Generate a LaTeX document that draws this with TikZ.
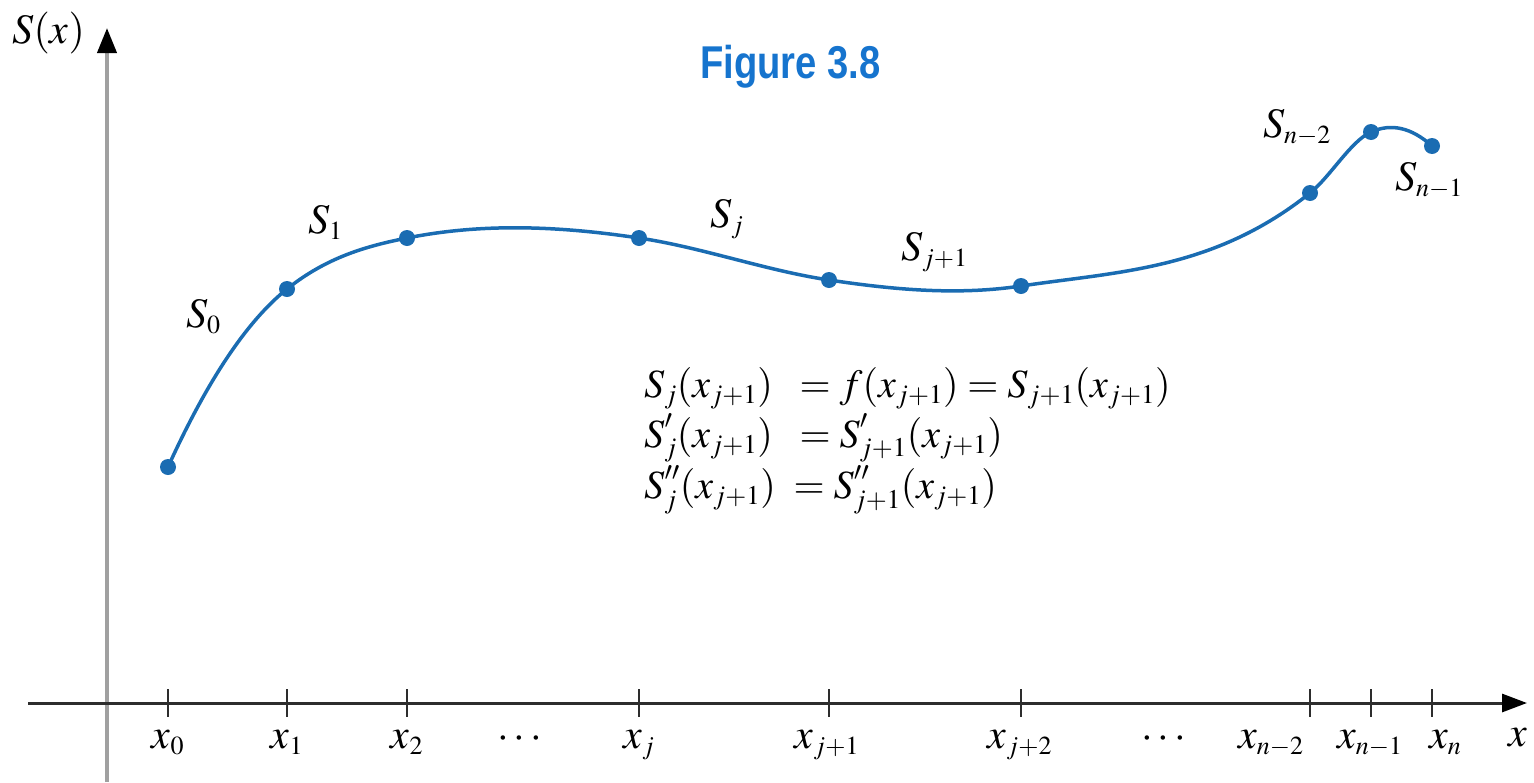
\documentclass[tikz,border=0pt]{standalone}
\usepackage{mathptmx}
\usepackage{amsmath}
\usepackage[no-math]{fontspec}
\newfontfamily\titlefont{Liberation Sans}
\usetikzlibrary{arrows.meta}
\DeclareMathSizes{42}{42}{26}{20}
\DeclareMathSizes{40}{40}{27}{20}
\newcommand{\sprime}{\raisebox{2pt}{$\scriptstyle\prime$}}
\newcommand{\dprime}{\raisebox{2pt}{$\scriptstyle\prime\prime$}}
\definecolor{curveblue}{RGB}{26,108,178}
\definecolor{titleblue}{RGB}{22,116,206}
\definecolor{axisgray}{RGB}{160,160,160}
\definecolor{axisdark}{RGB}{45,45,45}
\tikzset{
  lab/.style={font=\fontsize{42}{49}\selectfont, inner sep=0pt, text=black},
  eqlab/.style={font=\fontsize{40}{50}\selectfont, inner sep=0pt, text=black},
  dot/.style={circle, fill=curveblue, minimum size=16pt, inner sep=0pt},
  curveline/.style={draw=curveblue, line width=3.5pt},
  tickline/.style={draw=axisdark, line width=2.5pt},
}
\begin{document}
\begin{tikzpicture}[x=1pt,y=-1pt]
\useasboundingbox (0,0) rectangle (1534,782);
% axes
\coordinate (ybot) at (107,782);
\coordinate (ytop) at (107,28);
\coordinate (xleft) at (28,703);
\coordinate (xright) at (1527,703);
\draw[draw=axisgray, line width=4pt, -{Triangle[length=25pt,width=19pt,color=black,fill=black]}] (ybot) -- (ytop);
\draw[draw=axisdark, line width=3pt, -{Triangle[length=25pt,width=18pt,color=black,fill=black]}] (xleft) -- (xright);
% knot coordinates
\coordinate (c0) at (168,467);
\coordinate (c1) at (287,289);
\coordinate (c2) at (407,238);
\coordinate (c3) at (639,238);
\coordinate (c4) at (829,280);
\coordinate (c5) at (1021,286);
\coordinate (c6) at (1310,193);
\coordinate (c7) at (1371,132);
\coordinate (c8) at (1432,146);
% ticks
\foreach \p in {c0,c1,c2,c3,c4,c5,c6,c7,c8}{
  \coordinate (t-\p-a) at (\p |- 0,689);
  \coordinate (t-\p-b) at (\p |- 0,717);
  \draw[tickline] (t-\p-a) -- (t-\p-b);
}
% curve (piecewise cubic spline)
\draw[curveline] (c0)
  .. controls +(39.67,-87.3) and +(-39.67,31.7) .. (c1)
  .. controls +(40,-32) and +(-40,8) .. (c2)
  .. controls +(77.33,-15.5) and +(-77.33,-11.6) .. (c3)
  .. controls +(63.33,9.5) and +(-63.33,-9.5) .. (c4)
  .. controls +(64,9.6) and +(-64,9.6) .. (c5)
  .. controls +(96.33,-14.4) and +(-96.33,77.1) .. (c6)
  .. controls +(20.33,-16.3) and +(-20.33,9.15) .. (c7)
  .. controls +(20.33,-9.15) and +(-20.33,-18.3) .. (c8);
\foreach \p in {c0,c1,c2,c3,c4,c5,c6,c7,c8}{
  \node[dot] (d-\p) at (\p) {};
}
% tick labels
\node[lab, anchor=base] (lx0) at (168,748) {$x_0$};
\node[lab, anchor=base] (lx1) at (287,748) {$x_1$};
\node[lab, anchor=base] (lx2) at (407,748) {$x_2$};
\node[lab, anchor=base] (ldots1) at (522,748) {$\cdots$};
\node[lab, anchor=base] (lxj) at (639,748) {$x_j$};
\node[lab, anchor=base] (lxj1) at (827,748) {$x_{j+1}$};
\node[lab, anchor=base] (lxj2) at (1020,748) {$x_{j+2}$};
\node[lab, anchor=base] (ldots2) at (1166,748) {$\cdots$};
\node[lab, anchor=base west] (lxn2) at (1238,748) {$x_{n-2}$};
\node[lab, anchor=base west] (lxn1) at (1337,748) {$x_{n-1}$};
\node[lab, anchor=base west] (lxn) at (1429,748) {$x_n$};
\node[lab, anchor=base] (lx) at (1518,746) {$x$};
\node[lab, anchor=base west] (lSx) at (12,43) {$S(x)$};
% segment labels
\node[lab, anchor=base west] (s0) at (186,327) {$S_0$};
\node[lab, anchor=base west] (s1) at (308,233) {$S_1$};
\node[lab, anchor=base west] (sj) at (710,227) {$S_j$};
\node[lab, anchor=base west] (sj1) at (901,260) {$S_{j+1}$};
\node[lab, anchor=base west] (sn2) at (1263,137) {$S_{n-2}$};
\node[lab, anchor=base west] (sn1) at (1395,190) {$S_{n-1}$};
% equations
\node[eqlab, anchor=base west] (eqs) at (644,397) {\setlength{\jot}{0pt}$\begin{aligned}[t]
&S_j(x_{j+1})\;\;= f(x_{j+1}) = S_{j+1}(x_{j+1})\\
&S^{\sprime}_j(x_{j+1})\;\;= S^{\sprime}_{j+1}(x_{j+1})\\
&S^{\dprime}_j(x_{j+1})\;= S^{\dprime}_{j+1}(x_{j+1})
\end{aligned}$};
% title
\node[inner sep=0pt, anchor=base west, text=titleblue] (title) at (700,78) {\scalebox{0.83}[1]{\titlefont\bfseries\fontsize{46}{50}\selectfont Figure 3.8}};
\end{tikzpicture}
\end{document}
